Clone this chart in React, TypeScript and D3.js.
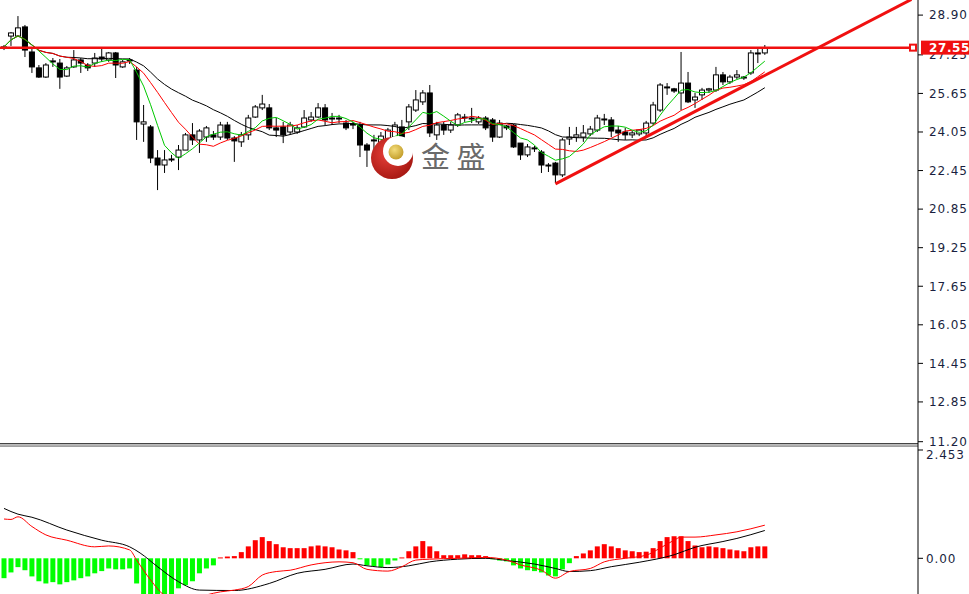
import * as d3 from 'd3';

// OHLC, one entry per bar
const opens = [
  27.54, 28.03, 28.03, 28.41, 27.37, 26.71, 26.33, 26.96, 26.91, 26.37,
  26.75, 27.04, 26.83, 26.91, 27.16, 27.04, 27.33, 26.75, 27.0, 26.62,
  24.38, 24.26, 22.97, 22.68, 22.89, 23.01, 23.3, 23.93, 23.72, 23.84,
  23.93, 23.84, 24.34, 23.8, 23.64, 23.93, 24.67, 25.05, 25.05, 24.22,
  24.26, 24.05, 24.05, 24.26, 24.55, 24.67, 25.05, 24.63, 24.59, 24.42,
  24.38, 24.34, 23.51, 23.72, 23.55, 23.72, 23.84, 24.26, 24.47, 24.96,
  25.3, 25.67, 23.93, 24.34, 24.13, 24.34, 24.63, 24.59, 24.47, 24.63,
  24.55, 23.84, 24.3, 24.34, 23.59, 23.1, 23.39, 23.22, 22.68, 22.76,
  22.27, 23.76, 23.84, 23.84, 23.97, 24.13, 24.55, 24.55, 24.13, 24.05,
  23.93, 23.97, 24.01, 24.42, 24.96, 25.88, 25.84, 25.67, 26.08, 25.38,
  25.59, 25.79, 25.79, 26.42, 26.13, 26.33, 26.29, 26.5, 27.29, 27.33,
];
const highs = [
  27.66, 28.2, 28.86, 28.49, 27.5, 26.83, 26.91, 27.12, 27.08, 26.79,
  27.45, 27.12, 26.91, 27.33, 27.54, 27.37, 27.37, 27.04, 27.12, 26.75,
  25.17, 24.34, 23.3, 23.3, 23.1, 23.51, 24.01, 24.42, 24.17, 24.3,
  24.09, 24.47, 24.47, 23.88, 24.05, 24.76, 25.17, 25.59, 25.21, 24.63,
  24.47, 24.47, 24.34, 24.96, 24.88, 25.25, 25.21, 24.84, 24.76, 24.55,
  24.47, 24.47, 23.59, 23.93, 24.05, 24.22, 24.47, 24.55, 25.21, 25.79,
  25.79, 26.0, 24.47, 24.47, 24.47, 24.84, 24.8, 25.05, 24.71, 24.71,
  24.63, 24.55, 24.34, 24.38, 23.59, 23.55, 23.47, 23.3, 22.76, 22.81,
  23.8, 24.26, 24.26, 24.34, 24.3, 24.76, 24.8, 24.67, 24.3, 24.22,
  24.09, 24.17, 24.51, 25.3, 26.08, 26.08, 25.88, 27.37, 26.54, 25.67,
  25.88, 25.88, 26.75, 26.54, 26.42, 26.62, 26.37, 27.45, 27.54, 27.66,
];
const lows = [
  27.45, 27.62, 27.99, 27.16, 26.5, 26.29, 26.29, 26.75, 25.84, 26.33,
  26.71, 26.5, 26.58, 26.75, 26.96, 26.96, 26.29, 26.71, 26.87, 23.72,
  23.64, 22.76, 21.64, 22.35, 22.81, 22.47, 23.3, 23.51, 23.18, 23.64,
  23.72, 23.72, 23.72, 22.81, 23.43, 23.72, 24.63, 24.96, 24.13, 23.84,
  23.59, 23.93, 23.97, 24.22, 24.47, 24.63, 24.34, 24.34, 24.42, 24.13,
  24.17, 23.01, 22.6, 23.1, 23.39, 23.43, 23.72, 23.51, 24.13, 24.88,
  25.17, 23.84, 23.72, 23.93, 24.01, 24.26, 24.47, 24.42, 24.38, 24.13,
  23.64, 23.8, 24.13, 23.39, 22.89, 23.01, 23.22, 22.35, 22.39, 21.93,
  22.18, 23.51, 23.64, 23.64, 23.88, 24.05, 24.34, 23.84, 23.64, 23.72,
  23.8, 23.88, 23.8, 24.34, 24.88, 25.59, 25.67, 24.96, 25.25, 25.05,
  25.38, 25.67, 25.71, 26.0, 26.04, 26.25, 26.21, 26.42, 26.91, 27.25,
];
const closes = [
  27.58, 28.16, 28.37, 27.45, 26.75, 26.33, 26.83, 27.0, 26.33, 26.71,
  27.04, 26.91, 26.71, 27.12, 27.08, 27.33, 26.83, 26.96, 27.04, 24.47,
  24.47, 22.97, 22.68, 22.89, 22.93, 23.3, 23.93, 23.72, 24.09, 24.22,
  23.84, 24.34, 23.8, 23.68, 23.93, 24.63, 25.09, 25.21, 24.22, 24.13,
  23.93, 24.34, 24.22, 24.63, 24.67, 25.05, 24.55, 24.59, 24.63, 24.22,
  24.34, 23.51, 23.3, 23.68, 23.88, 24.13, 24.34, 23.84, 25.09, 25.38,
  25.67, 24.01, 24.34, 24.13, 24.34, 24.76, 24.67, 24.63, 24.63, 24.22,
  23.84, 24.42, 24.22, 23.43, 23.1, 23.43, 23.35, 22.68, 22.66, 22.27,
  23.72, 23.84, 23.93, 24.01, 24.17, 24.63, 24.59, 24.09, 24.01, 23.93,
  24.01, 24.13, 24.42, 25.17, 26.0, 25.92, 25.75, 26.08, 25.3, 25.5,
  25.79, 25.84, 26.42, 26.13, 26.33, 26.42, 26.33, 27.33, 27.33, 27.54,
];

// MACD histogram per bar
const histogram = [
  -0.45, -0.32, -0.2, -0.27, -0.41, -0.52, -0.57, -0.54, -0.59, -0.54,
  -0.5, -0.45, -0.41, -0.34, -0.29, -0.23, -0.25, -0.25, -0.23, -0.57,
  -0.91, -0.91, -0.91, -0.82, -0.82, -0.68, -0.61, -0.52, -0.34, -0.23,
  -0.16, 0.02, 0.04, 0.05, 0.14, 0.27, 0.41, 0.48, 0.39, 0.32,
  0.25, 0.23, 0.23, 0.23, 0.27, 0.29, 0.27, 0.25, 0.2, 0.18,
  0.14, -0.02, -0.16, -0.18, -0.2, -0.14, -0.05, 0.02, 0.16, 0.27,
  0.39, 0.27, 0.16, 0.07, 0.07, 0.07, 0.09, 0.07, 0.07, 0.05,
  -0.02, -0.05, -0.07, -0.16, -0.23, -0.27, -0.29, -0.32, -0.39, -0.41,
  -0.25, -0.11, 0.05, 0.11, 0.18, 0.27, 0.32, 0.27, 0.23, 0.18,
  0.16, 0.14, 0.15, 0.23, 0.39, 0.48, 0.5, 0.5, 0.39, 0.29,
  0.25, 0.27, 0.25, 0.23, 0.2, 0.18, 0.16, 0.25, 0.27, 0.27,
];

// MACD lines: [bar index, value]
const difPoints: [number, number][] = [
  [0, 0.89], [1, 0.88], [2, 0.94], [4, 0.72], [6, 0.53], [9, 0.41], [13, 0.26],
  [15, 0.28], [18, 0.19], [19, -0.04], [21, -0.49], [23, -0.83], [25, -0.9],
  [27, -0.92], [29, -0.83], [31, -0.76], [33, -0.72], [35, -0.64], [37, -0.38],
  [39, -0.3], [41, -0.27], [44, -0.15], [46, -0.1], [48, -0.08], [50, -0.1],
  [52, -0.25], [55, -0.29], [57, -0.19], [59, -0.04], [61, -0.02], [65, 0.0],
  [69, 0.02], [72, -0.04], [74, -0.15], [77, -0.27], [79, -0.45], [81, -0.3],
  [84, -0.23], [86, -0.08], [89, 0.0], [92, 0.07], [94, 0.23], [96, 0.41],
  [97, 0.48], [99, 0.48], [102, 0.53], [105, 0.6], [109, 0.75],
];
const deaPoints: [number, number][] = [
  [0, 1.13], [2, 1.0], [4, 0.93], [9, 0.64], [14, 0.41], [18, 0.26], [19.5, 0.12],
  [22, -0.19], [25, -0.53], [28, -0.72], [33, -0.73], [38, -0.57], [42, -0.34],
  [46, -0.25], [50, -0.13], [52, -0.17], [55, -0.21], [58, -0.17], [61, -0.08],
  [65, -0.02], [69, 0.0], [72, -0.05], [76, -0.13], [79, -0.23], [81, -0.3],
  [84, -0.28], [87, -0.19], [91, -0.09], [96, 0.08], [99, 0.25], [103, 0.38],
  [105, 0.45], [109, 0.63],
];

const priceTicks = [28.9, 27.25, 25.65, 24.05, 22.45, 20.85, 19.25, 17.65, 16.05, 14.45, 12.85, 11.2];
const macdTicks = ['2.453', '0.00'];
const resistance = 27.55;
const trendFrom: [number, number] = [79, 21.9];
const trendTo: [number, number] = [130, 29.55];

const W = 969;
const H = 594;
const AXIS_X = 918;
const PRICE_BOTTOM = 443;
const MACD_TOP = 447;
const AXIS_FONT = '"DejaVu Sans", Verdana, sans-serif';

function sma(values: number[], n: number) {
  return values.map((_, i) => d3.mean(values.slice(Math.max(0, i - n + 1), i + 1)) as number);
}

export default function App() {
  const x = d3.scaleLinear().domain([0, 109]).range([4, 4 + 6.98 * 109]);
  const y = d3.scaleLinear().domain([11.2, 28.9]).range([441.7, 15.1]);
  const ym = d3.scaleLinear().domain([0, 2.453]).range([558.3, 450]);

  const maLine = d3
    .line<number>()
    .x((_, i) => x(i))
    .y((d) => y(d));
  const macdLine = d3
    .line<[number, number]>()
    .x((d) => x(d[0]))
    .y((d) => ym(d[1]))
    .curve(d3.curveMonotoneX);

  const mas = [
    { n: 20, color: '#000000' },
    { n: 10, color: '#ff0000' },
    { n: 5, color: '#00c800' },
  ];

  const bodyW = 5;
  const resY = y(resistance);

  return (
    <svg
      width={W}
      height={H}
      style={{ position: 'absolute', left: 0, top: 0, background: '#fff' }}
      fontFamily={AXIS_FONT}
    >
      <defs>
        <clipPath id="price-clip">
          <rect x={0} y={0} width={AXIS_X} height={PRICE_BOTTOM} />
        </clipPath>
        <clipPath id="macd-clip">
          <rect x={0} y={MACD_TOP} width={AXIS_X} height={H - MACD_TOP} />
        </clipPath>
        <radialGradient id="logo-red" cx="40%" cy="40%" r="70%">
          <stop offset="0%" stopColor="#e8403a" />
          <stop offset="100%" stopColor="#a0140e" />
        </radialGradient>
        <radialGradient id="logo-gold" cx="40%" cy="35%" r="70%">
          <stop offset="0%" stopColor="#f3dc7a" />
          <stop offset="100%" stopColor="#c09a26" />
        </radialGradient>
      </defs>

      {/* price panel */}
      <g clipPath="url(#price-clip)">
        {/* candles */}
        {closes.map((c, i) => {
          const o = opens[i];
          const up = c >= o;
          const top = y(Math.max(o, c));
          const bot = y(Math.min(o, c));
          return (
            <g key={i}>
              <line x1={x(i)} x2={x(i)} y1={y(highs[i])} y2={y(lows[i])} stroke="#000" strokeWidth={1} />
              <rect
                x={x(i) - bodyW / 2}
                y={top}
                width={bodyW}
                height={Math.max(1, bot - top)}
                fill={up ? '#fff' : '#000'}
                stroke="#000"
                strokeWidth={1}
              />
            </g>
          );
        })}

        {/* moving averages */}
        {mas.map((m) => (
          <path key={m.n} d={maLine(sma(closes, m.n)) ?? ''} fill="none" stroke={m.color} strokeWidth={1} />
        ))}

        {/* watermark */}
        <g>
          <circle cx={392} cy={158} r={21} fill="url(#logo-red)" />
          <circle cx={398} cy={151} r={15} fill="#fff" />
          <circle cx={396} cy={152} r={7.5} fill="url(#logo-gold)" />
          <text x={421} y={168} fontSize={29} fill="#6a6a6a" fontFamily='"Noto Sans CJK SC", sans-serif'>
            金 盛
          </text>
        </g>

        {/* resistance + trend line */}
        <line x1={0} x2={912} y1={resY} y2={resY} stroke="#f01010" strokeWidth={2.5} />
        <line
          x1={x(trendFrom[0])}
          y1={y(trendFrom[1])}
          x2={x(trendTo[0])}
          y2={y(trendTo[1])}
          stroke="#f01010"
          strokeWidth={3}
        />
      </g>
      <rect x={910} y={resY - 3} width={6} height={6} fill="#fff" stroke="#f01010" strokeWidth={2} />

      {/* panel separator */}
      <line x1={0} x2={AXIS_X} y1={443.5} y2={443.5} stroke="#444" strokeWidth={1} />
      <line x1={0} x2={AXIS_X} y1={446} y2={446} stroke="#444" strokeWidth={1} />
      <rect x={0} y={444} width={AXIS_X} height={1.5} fill="#bbb" />

      {/* MACD panel */}
      <g clipPath="url(#macd-clip)">
        {histogram.map((v, i) => {
          const y0 = ym(0);
          const y1 = ym(v);
          return (
            <rect
              key={i}
              x={x(i) - 2.5}
              y={Math.min(y0, y1)}
              width={5}
              height={Math.max(1, Math.abs(y1 - y0))}
              fill={v >= 0 ? '#ff0000' : '#00ff00'}
            />
          );
        })}
        <path d={macdLine(deaPoints) ?? ''} fill="none" stroke="#000" strokeWidth={1} />
        <path d={macdLine(difPoints) ?? ''} fill="none" stroke="#ff0000" strokeWidth={1} />
      </g>

      {/* right axis */}
      <line x1={AXIS_X} x2={AXIS_X} y1={0} y2={H} stroke="#000" strokeWidth={1} />
      {priceTicks.map((t) => (
        <g key={t}>
          <line x1={AXIS_X} x2={AXIS_X + 5} y1={y(t)} y2={y(t)} stroke="#000" />
          <text x={929} y={y(t)} dy="0.36em" fontSize={12} fill="#1a1f40" letterSpacing={0.9}>
            {t.toFixed(2)}
          </text>
        </g>
      ))}
      {macdTicks.map((t) => (
        <g key={t}>
          <line x1={AXIS_X} x2={AXIS_X + 5} y1={ym(+t)} y2={ym(+t)} stroke="#000" />
          <text x={926} y={ym(+t) + (t === '2.453' ? 5 : 0)} dy="0.36em" fontSize={12} fill="#1a1f40" letterSpacing={0.9}>
            {t}
          </text>
        </g>
      ))}

      {/* current level label */}
      <rect x={921} y={resY - 7} width={48} height={14} fill="#f01010" />
      <text x={929} y={resY} dy="0.36em" fontSize={12} fill="#fff" fontWeight="bold" letterSpacing={0.6}>
        {resistance.toFixed(2)}
      </text>
    </svg>
  );
}
